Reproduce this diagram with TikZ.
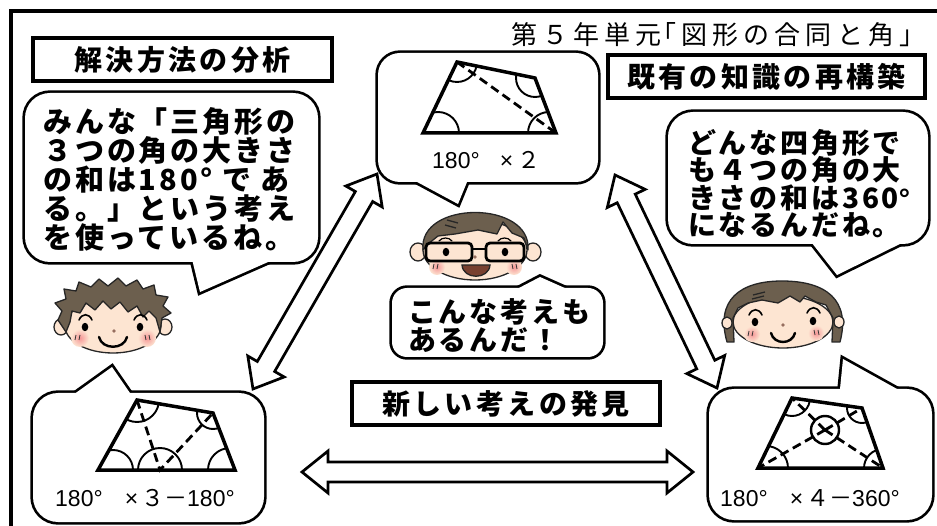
\documentclass[tikz,border=0pt]{standalone}
\usepackage{fontspec}
\setmainfont{Liberation Sans}
\newfontfamily\jp{Noto Sans CJK JP}
\newfontfamily\jpTitle[LetterSpace=20]{Noto Sans CJK JP}
\newfontfamily\jpBox[LetterSpace=12]{Noto Sans CJK JP}
\newfontfamily\jpSay[LetterSpace=10]{Noto Sans CJK JP}
\usetikzlibrary{calc}

\definecolor{hair}{RGB}{108,95,78}
\definecolor{skin}{RGB}{253,229,210}
\definecolor{blush}{RGB}{245,150,150}
\definecolor{lip}{RGB}{120,64,48}
\definecolor{nose}{RGB}{150,110,95}

% speech bubble: rounded body plus pointed tail, merged into one outline
\newcommand\talkbubble[3]{%
  \draw[line width=5.4pt, rounded corners=#1] #2;
  \draw[line width=5.4pt, line join=miter] #3 -- cycle;
  \fill[white, rounded corners=#1] #2;
  \fill[white] #3 -- cycle;}

% hollow double-headed block arrow between two named points
\newcommand\widearrow[2]{%
  \draw[wide arrow] (#1)
   -- ($(#1)!26pt!(#2)!21pt!90:(#2)$)
   -- ($(#1)!26pt!(#2)!10pt!90:(#2)$)
   -- ($(#2)!26pt!(#1)!10pt!-90:(#1)$)
   -- ($(#2)!26pt!(#1)!21pt!-90:(#1)$)
   -- (#2)
   -- ($(#2)!26pt!(#1)!21pt!90:(#1)$)
   -- ($(#2)!26pt!(#1)!10pt!90:(#1)$)
   -- ($(#1)!26pt!(#2)!10pt!-90:(#2)$)
   -- ($(#1)!26pt!(#2)!21pt!-90:(#2)$)
   -- cycle;}

\tikzset{
  frame/.style={line width=4.5pt, line cap=rect},
  labelbox/.style={draw, line width=3.8pt, fill=white, inner sep=0pt,
    minimum height=43pt, font=\jpBox\bfseries\fontsize{28}{30}\selectfont},
  saytext/.style={inner sep=0pt, align=left, anchor=north west},
  quad/.style={line width=3.5pt, line join=miter},
  diag/.style={line width=2.8pt, dash pattern=on 9pt off 5pt},
  anglemark/.style={line width=1.9pt},
  qlabel/.style={inner sep=0pt, font=\fontsize{23}{25}\selectfont},
  wide arrow/.style={draw, line width=2.7pt, fill=white, line join=miter},
  faceline/.style={line width=1.3pt, draw=black!85},
  feature/.style={line width=1.6pt, line cap=round},
  tick/.style={line width=0.8pt, draw=black!80},
}

\begin{document}
\begin{tikzpicture}[x=1pt, y=-1pt]
\useasboundingbox (0,0) rectangle (937,526);
\fill[white] (0,0) rectangle (937,526);

% outer frame (top and left sides)
\draw[frame] (11,526) -- (11,11) -- (937,11);

% unit title
\node[anchor=west, inner sep=0pt, font=\jpTitle\fontsize{26}{28}\selectfont]
  (title) at (511,35) {第５年単元\kern-12pt「図形の合同と角」};

% section labels
\node[labelbox, minimum width=299pt] (analysis) at (182.5,59.5) {解決方法の分析};
\node[labelbox, minimum width=317pt] (rebuild) at (766.5,76.5) {既有の知識の再構築};
\node[labelbox, minimum width=308pt] (discover) at (506,403.5) {新しい考えの発見};

% speech bubbles
\talkbubble{25pt}{(25,93) rectangle (318,262)}{(191,255) -- (200,292) -- (284,255)}
\talkbubble{22pt}{(378,53) rectangle (598,182)}{(406,176) -- (458,204) -- (469.5,176)}
\talkbubble{25pt}{(668,112) rectangle (928,244)}{(808,238) -- (837,275) -- (912,238)}
\talkbubble{15pt}{(392,288) rectangle (603,357)}{(505.5,295) -- (540,277) -- (580.5,295)}
\talkbubble{25pt}{(33,393) rectangle (264,522)}{(64.6,401) -- (112,367) -- (135.5,401)}
\talkbubble{25pt}{(709,389) rectangle (932,520)}{(839.4,395) -- (843,359) -- (907.8,395)}

% bubble texts
\node[saytext, font=\jpSay\bfseries\fontsize{29}{29}\selectfont] (sayL) at (43,107)
  {みんな「三角形の\\３つの角の大きさ\\の和は180° で あ\\る。」という考え\\を使っているね。};
\node[saytext, font=\jpSay\bfseries\fontsize{28}{27.5}\selectfont] (sayR) at (688,129)
  {どんな四角形で\\も４つの角の大\\きさの和は360{\rmfamily\bfseries °}\\になるんだね。};
\node[saytext, font=\jpSay\bfseries\fontsize{28}{28}\selectfont] (sayC) at (408,298)
  {こんな考えも\\あるんだ！};

% quadrilateral split by one diagonal
\coordinate (qa1) at (457,62);  \coordinate (qb1) at (535,78);
\coordinate (qc1) at (556,133); \coordinate (qd1) at (423,133);
\begin{scope}
  \clip (qa1) -- (qb1) -- (qc1) -- (qd1) -- cycle;
  \draw[anglemark] (qa1) circle[radius=20pt] (qb1) circle[radius=19pt]
    ($(qc1)+(-7,0)$) circle[radius=21pt] ($(qd1)+(15,0)$) circle[radius=21pt];
\end{scope}
\draw[diag] (qa1) -- (qc1);
\draw[quad] (qa1) -- (qb1) -- (qc1) -- (qd1) -- cycle;
\node[qlabel, anchor=west] (lab1) at (432,160) {180°\hspace{20pt}×\hspace{4pt}{\jp ２}};

% quadrilateral split from a point on its base
\coordinate (qa2) at (137,400); \coordinate (qb2) at (213,413);
\coordinate (qc2) at (235,470); \coordinate (qd2) at (98,470);
\coordinate (qp2) at (160,470);
\begin{scope}
  \clip (qa2) -- (qb2) -- (qc2) -- (qd2) -- cycle;
  \draw[anglemark] (qa2) circle[radius=22pt] (qb2) circle[radius=16pt]
    (qp2) circle[radius=22pt]
    ($(qc2)+(-5,0)$) circle[radius=22pt] ($(qd2)+(15,0)$) circle[radius=20pt];
\end{scope}
\draw[diag] (qa2) -- (qp2) -- (qb2);
\draw[quad] (qa2) -- (qb2) -- (qc2) -- (qd2) -- cycle;
\node[qlabel, anchor=west] (lab2) at (55,498) {180°\hspace{22pt}×\hspace{3pt}{\jp ３－}180°};

% quadrilateral split from an inner point
\coordinate (qa3) at (792,398); \coordinate (qb3) at (862,408);
\coordinate (qc3) at (883,468); \coordinate (qd3) at (758,468);
\coordinate (qo3) at (825,430);
\begin{scope}
  \clip (qa3) -- (qb3) -- (qc3) -- (qd3) -- cycle;
  \draw[anglemark] (qa3) circle[radius=18pt] (qb3) circle[radius=15pt]
    (qc3) circle[radius=19pt] ($(qd3)+(8,0)$) circle[radius=22pt];
\end{scope}
\draw[anglemark, line width=2.4pt] (qo3) circle[radius=14pt];
\draw[diag] (qo3) -- (qa3) (qo3) -- (qb3) (qo3) -- (qc3) (qo3) -- (qd3);
\draw[quad] (qa3) -- (qb3) -- (qc3) -- (qd3) -- cycle;
\node[qlabel, anchor=west] (lab3) at (720,498) {180°\hspace{22pt}×\hspace{3pt}{\jp ４－}360°};

% boy
\draw[faceline, fill=skin] (61,327) ellipse[x radius=7pt, y radius=8pt];
\draw[faceline, fill=skin] (165,327) ellipse[x radius=7pt, y radius=8pt];
\draw[faceline, fill=skin] (113,326) ellipse[x radius=48pt, y radius=27pt];
\draw[faceline, fill=hair, line join=round] (66,332) -- (58,320) -- (62,311) -- (55,303)
  -- (66,299) -- (64,289) -- (76,291) -- (79,282) -- (91,287) -- (99,279) -- (108,286)
  -- (118,278) -- (126,286) -- (137,280) -- (143,289) -- (154,285) -- (156,295)
  -- (168,297) -- (163,306) -- (171,313) -- (162,318) -- (160,332) -- (156,318)
  -- (149,311) -- (143,317) -- (137,306) -- (128,312) -- (120,302) -- (111,309)
  -- (103,301) -- (95,310) -- (86,303) -- (80,313) -- (72,311) -- (70,322) -- cycle;
\shade[inner color=blush, outer color=skin] (80,338) circle[radius=9pt];
\shade[inner color=blush, outer color=skin] (147,338) circle[radius=9pt];
\draw[tick] (76,335) -- (75,340) (80,335) -- (79,340) (145,335) -- (146,340) (149,335) -- (150,340);
\draw[feature] (79,320) .. controls (82,313) and (89,313) .. (92,320);
\draw[feature] (134,320) .. controls (137,313) and (144,313) .. (147,320);
\fill (85,327) ellipse[x radius=3.3pt, y radius=4.2pt];
\fill (140,327) ellipse[x radius=3.3pt, y radius=4.2pt];
\fill[nose] (114,331) circle[radius=1.8pt];
\draw[feature, line width=2.4pt] (99,337) .. controls (102,350) and (124,350) .. (127,337);

% teacher with glasses
\draw[faceline, fill=skin] (418,252) ellipse[x radius=8pt, y radius=9pt];
\draw[faceline, fill=skin] (533,252) ellipse[x radius=8pt, y radius=9pt];
\draw[faceline, fill=skin] (475,250) ellipse[x radius=52pt, y radius=30pt];
\draw[faceline, fill=hair, line join=round] (423,250) .. controls (418,200) and (532,200) .. (528,250)
  -- (524,238) -- (512,233) -- (503,222) -- (497,234) -- (478,230) -- (455,234)
  -- (438,236) -- (428,244) -- cycle;
\draw[faceline] (447,220) -- (458,223) (445,225) -- (456,228);
\shade[inner color=blush, outer color=skin] (437,267) circle[radius=8pt];
\shade[inner color=blush, outer color=skin] (514,267) circle[radius=8pt];
\draw[tick] (434,264) -- (433,269) (438,264) -- (437,269) (512,264) -- (513,269) (516,264) -- (517,269);
\draw[line width=2.8pt, rounded corners=4pt] (426,243) rectangle (472,261) (486,243) rectangle (524,261);
\draw[line width=2.4pt] (472,249) -- (486,249);
\draw[feature, line width=1.2pt] (439,241) .. controls (442,237) and (449,237) .. (452,241);
\draw[feature, line width=1.2pt] (498,241) .. controls (501,237) and (508,237) .. (511,241);
\fill (446,252) ellipse[x radius=3.3pt, y radius=4.2pt];
\fill (505,252) ellipse[x radius=3.3pt, y radius=4.2pt];
\fill[nose] (475,257) circle[radius=1.8pt];
\draw[faceline, fill=lip] (462,265) -- (490,265) .. controls (489,280) and (463,280) .. cycle;

% girl
\draw[faceline, fill=skin] (783,322) ellipse[x radius=50pt, y radius=26pt];
\draw[faceline, fill=hair, line join=round] (727,342) .. controls (715,300) and (740,281) .. (782,281)
  .. controls (826,281) and (851,300) .. (840,342) -- (832,342) -- (833,318) -- (826,305)
  -- (816,302) -- (805,296) -- (800,302) -- (790,296) -- (778,303) -- (762,300)
  -- (748,303) -- (738,308) -- (733,318) -- (734,342) -- cycle;
\draw[faceline, fill=skin] (727,323) ellipse[x radius=5pt, y radius=6pt];
\draw[faceline, fill=skin] (839,322) ellipse[x radius=5pt, y radius=6pt];
\draw[faceline] (753,295) -- (765,292) (752,299) -- (764,296);
\shade[inner color=blush, outer color=skin] (752,334) circle[radius=8pt];
\shade[inner color=blush, outer color=skin] (816,333) circle[radius=8pt];
\draw[tick] (749,331) -- (748,336) (753,331) -- (752,336) (814,330) -- (815,335) (818,330) -- (819,335);
\draw[feature] (749,315) .. controls (752,308) and (759,308) .. (762,315);
\draw[feature] (807,313) .. controls (810,306) and (817,306) .. (820,313);
\fill (755,322) ellipse[x radius=3.3pt, y radius=4.2pt];
\fill (813,321) ellipse[x radius=3.3pt, y radius=4.2pt];
\fill[nose] (783,325) circle[radius=1.8pt];
\draw[feature, line width=2.4pt] (771,333) .. controls (774,345) and (792,345) .. (795,333);

% connecting block arrows
\coordinate (lArrA) at (253,389); \coordinate (lArrB) at (377,174);
\coordinate (rArrA) at (615,175); \coordinate (rArrB) at (717,388);
\coordinate (hArrA) at (302,472); \coordinate (hArrB) at (693,472);
\widearrow{lArrA}{lArrB}
\widearrow{rArrA}{rArrB}
\widearrow{hArrA}{hArrB}
\end{tikzpicture}
\end{document}
